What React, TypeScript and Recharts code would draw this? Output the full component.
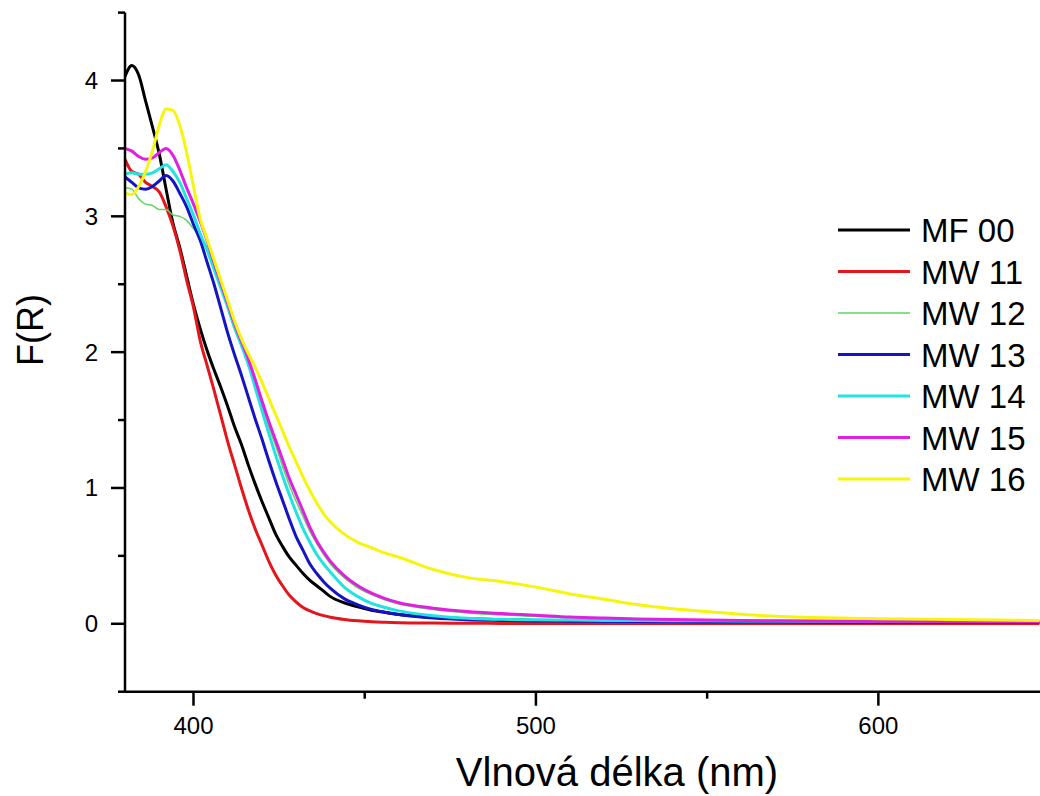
import { LineChart, Line, XAxis, YAxis, Legend } from "recharts";

const FONT = "'Liberation Sans', Arial, sans-serif";

// wavelength grid (nm)
const wavelengths = [
  380, 382, 384, 386, 388, 390, 392, 394, 396, 398, 400, 402, 404, 406, 408, 410,
  412, 414, 416, 418, 420, 422, 424, 426, 428, 430, 432, 434, 436, 438, 440,
  444, 448, 452, 456, 460, 470, 480, 490, 500, 510, 520, 530, 540, 550, 560, 570,
  580, 600, 620, 647,
];

const mf00 = [
  4.03, 4.11, 4.04, 3.85, 3.66, 3.46, 3.2, 2.95, 2.77, 2.56, 2.35, 2.17, 2.01, 1.87, 1.74, 1.6,
  1.45, 1.32, 1.17, 1.03, 0.9, 0.78, 0.66, 0.57, 0.49, 0.43, 0.37, 0.32, 0.28, 0.24, 0.2,
  0.155, 0.125, 0.1, 0.083, 0.068, 0.048, 0.037, 0.03, 0.025, 0.022, 0.02, 0.018, 0.017, 0.016, 0.015, 0.014,
  0.013, 0.012, 0.011, 0.01,
];

const mw11 = [
  3.42, 3.33, 3.31, 3.25, 3.22, 3.18, 3.07, 2.93, 2.75, 2.53, 2.33, 2.08, 1.9, 1.72, 1.53, 1.34,
  1.17, 1.0, 0.84, 0.7, 0.58, 0.46, 0.36, 0.28, 0.21, 0.16, 0.12, 0.095, 0.075, 0.06, 0.048,
  0.032, 0.022, 0.015, 0.011, 0.008, 0.005, 0.004, 0.003, 0.003, 0.002, 0.002, 0.002, 0.002, 0.002, 0.002, 0.002,
  0.002, 0.002, 0.002, 0.002,
];

const mw12 = [
  3.21, 3.2, 3.13, 3.09, 3.08, 3.05, 3.05, 3.01, 3.0, 2.97, 2.91, 2.85, 2.77, 2.63, 2.48, 2.33,
  2.17, 2.05, 1.93, 1.77, 1.61, 1.45, 1.31, 1.16, 1.02, 0.9, 0.79, 0.68, 0.59, 0.51, 0.44,
  0.34, 0.265, 0.215, 0.175, 0.145, 0.105, 0.08, 0.065, 0.055, 0.045, 0.037, 0.03, 0.026, 0.023, 0.02, 0.018,
  0.016, 0.014, 0.012, 0.011,
];

const mw13 = [
  3.29, 3.25, 3.21, 3.2, 3.22, 3.26, 3.3, 3.26, 3.17, 3.07, 2.94, 2.82, 2.66, 2.5, 2.32, 2.14,
  1.98, 1.83, 1.67, 1.51, 1.36, 1.2, 1.05, 0.91, 0.77, 0.64, 0.54, 0.44, 0.37, 0.31, 0.26,
  0.185, 0.14, 0.105, 0.085, 0.068, 0.042, 0.03, 0.025, 0.021, 0.019, 0.017, 0.016, 0.015, 0.014, 0.013, 0.013,
  0.012, 0.011, 0.01, 0.01,
];

const mw14 = [
  3.31, 3.32, 3.31, 3.31, 3.32, 3.35, 3.38, 3.33, 3.25, 3.13, 3.01, 2.87, 2.75, 2.61, 2.47, 2.33,
  2.18, 2.05, 1.91, 1.74, 1.57, 1.4, 1.24, 1.09, 0.95, 0.82, 0.7, 0.6, 0.51, 0.44, 0.38,
  0.27, 0.2, 0.15, 0.12, 0.095, 0.06, 0.04, 0.033, 0.029, 0.027, 0.025, 0.024, 0.023, 0.022, 0.021, 0.02,
  0.019, 0.018, 0.017, 0.016,
];

const mw15 = [
  3.5, 3.48, 3.44, 3.42, 3.43, 3.47, 3.5, 3.45, 3.34, 3.21, 3.09, 2.96, 2.82, 2.66, 2.51, 2.36,
  2.21, 2.08, 1.95, 1.8, 1.64, 1.49, 1.35, 1.21, 1.07, 0.95, 0.83, 0.71, 0.61, 0.53, 0.46,
  0.355, 0.28, 0.225, 0.185, 0.155, 0.115, 0.09, 0.075, 0.063, 0.05, 0.042, 0.036, 0.031, 0.027, 0.024, 0.022,
  0.02, 0.018, 0.016, 0.015,
];

const mw16 = [
  3.17, 3.16, 3.22, 3.33, 3.48, 3.67, 3.79, 3.78, 3.67, 3.47, 3.22, 2.98, 2.83, 2.68, 2.53, 2.38,
  2.23, 2.1, 1.99, 1.89, 1.78, 1.66, 1.54, 1.42, 1.3, 1.19, 1.08, 0.98, 0.89, 0.81, 0.75,
  0.66, 0.6, 0.56, 0.52, 0.49, 0.4, 0.34, 0.31, 0.27, 0.22, 0.18, 0.14, 0.11, 0.09, 0.07, 0.055,
  0.047, 0.038, 0.032, 0.025,
];

const xTicks = [400, 450, 500, 550, 600];
const yTicks = [-0.5, 0, 0.5, 1, 1.5, 2, 2.5, 3, 3.5, 4, 4.5];

const series = [
  { key: "mf00", name: "MF 00", color: "#000000", width: 3, values: mf00 },
  { key: "mw11", name: "MW 11", color: "#e3161b", width: 3, values: mw11 },
  { key: "mw12", name: "MW 12", color: "#5fd65f", width: 1.5, values: mw12 },
  { key: "mw13", name: "MW 13", color: "#1414c4", width: 3, values: mw13 },
  { key: "mw14", name: "MW 14", color: "#22e2e2", width: 3, values: mw14 },
  { key: "mw15", name: "MW 15", color: "#e020e0", width: 3, values: mw15 },
  { key: "mw16", name: "MW 16", color: "#f5f510", width: 3, values: mw16 },
];

const data = wavelengths.map((wl, i) => {
  const row: Record<string, number> = { wl };
  series.forEach((s) => {
    row[s.key] = s.values[i];
  });
  return row;
});

const XTick = (props: any) => {
  const { x, y, payload } = props;
  const major = payload.value % 100 === 0;
  return (
    <g>
      <line x1={x} y1={y} x2={x} y2={y + (major ? 14 : 7)} stroke="#000" strokeWidth={2.5} />
      {major && (
        <text x={x} y={y + 42} textAnchor="middle" fontSize={24} fontFamily={FONT} fill="#000">
          {payload.value}
        </text>
      )}
    </g>
  );
};

const YTick = (props: any) => {
  const { x, y, payload } = props;
  const major = Number.isInteger(payload.value);
  return (
    <g>
      <line x1={x} y1={y} x2={x - (major ? 14 : 7)} y2={y} stroke="#000" strokeWidth={2.5} />
      {major && (
        <text x={x - 27} y={y + 8.5} textAnchor="end" fontSize={24} fontFamily={FONT} fill="#000">
          {payload.value}
        </text>
      )}
    </g>
  );
};

const XTitle = () => (
  <text x={617} y={786} textAnchor="middle" fontSize={40} fontFamily={FONT} fill="#000">
    Vlnová délka (nm)
  </text>
);

const YTitle = () => (
  <text
    x={30}
    y={330}
    textAnchor="middle"
    dominantBaseline="central"
    transform="rotate(-90 30 330)"
    fontSize={36}
    fontFamily={FONT}
    fill="#000"
  >
    F(R)
  </text>
);

const renderLegend = (props: any) => {
  const { payload } = props;
  return (
    <svg width={210} height={310}>
      {payload.map((entry: any, i: number) => {
        const s = series.find((d) => d.name === entry.value);
        const cy = 30 + i * 41.5;
        return (
          <g key={entry.value}>
            <line x1={8} x2={80} y1={cy} y2={cy} stroke={entry.color} strokeWidth={s ? s.width : 3} />
            <text x={91} y={cy + 12} fontSize={33} fontFamily={FONT} fill="#000">
              {entry.value}
            </text>
          </g>
        );
      })}
    </svg>
  );
};

export default function App() {
  return (
    <div style={{ position: "fixed", left: 0, top: 0, width: 1040, height: 796, background: "#fff" }}>
      <LineChart width={1040} height={796} data={data} margin={{ top: 12.6, right: 0, left: 0, bottom: 0 }}>
        <XAxis
          dataKey="wl"
          type="number"
          domain={[380, 647.2]}
          ticks={xTicks}
          interval={0}
          height={104.3}
          tickSize={0}
          tickMargin={0}
          tickLine={false}
          tick={<XTick />}
          axisLine={{ stroke: "#000", strokeWidth: 2.5 }}
          allowDataOverflow
          label={<XTitle />}
        />
        <YAxis
          type="number"
          domain={[-0.5, 4.5]}
          ticks={yTicks}
          interval={0}
          width={125}
          tickSize={0}
          tickMargin={0}
          tickLine={false}
          tick={<YTick />}
          axisLine={{ stroke: "#000", strokeWidth: 2.5 }}
          allowDataOverflow
          label={<YTitle />}
        />
        <Legend
          layout="vertical"
          align="center"
          verticalAlign="middle"
          wrapperStyle={{ left: 830, top: 200, width: 210, height: 310 }}
          content={renderLegend}
        />
        {series.map((s) => (
          <Line
            key={s.key}
            type="monotone"
            dataKey={s.key}
            name={s.name}
            stroke={s.color}
            strokeWidth={s.width}
            dot={false}
            activeDot={false}
            isAnimationActive={false}
          />
        ))}
      </LineChart>
    </div>
  );
}
